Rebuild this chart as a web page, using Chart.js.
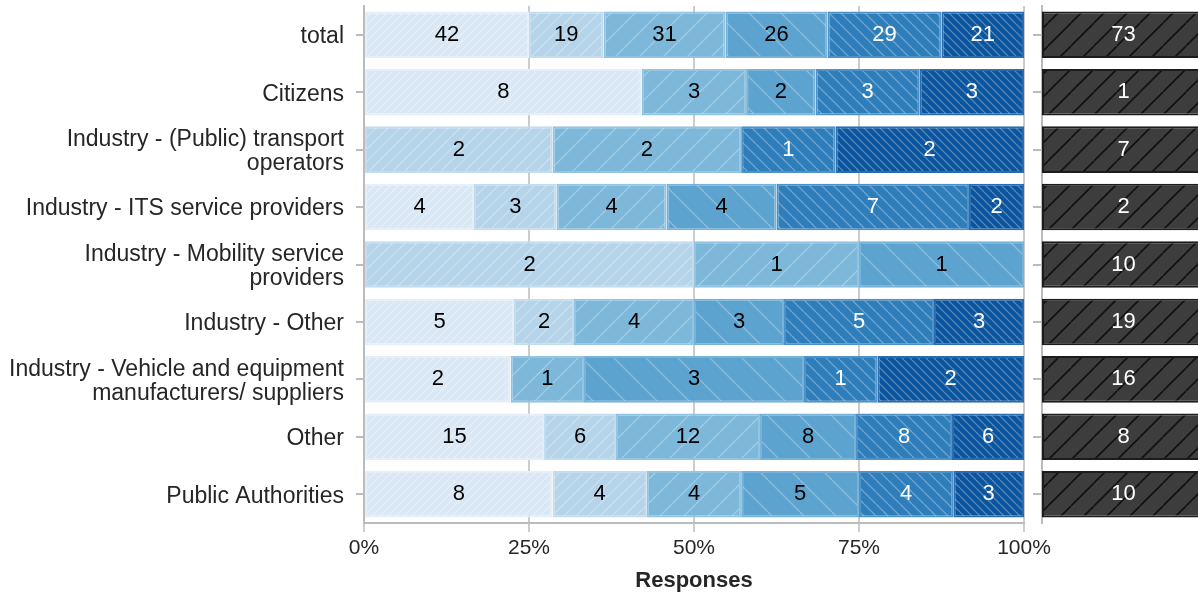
<!DOCTYPE html>
<html>
<head>
<meta charset="utf-8">
<script src="https://cdn.jsdelivr.net/npm/chart.js@4"></script>
<style>
  html, body { margin: 0; padding: 0; background: #fff; overflow: hidden; }
  body { width: 1198px; height: 599px; position: relative; }
  #main { position: absolute; left: 0; top: 0; }
  #side { position: absolute; left: 1025px; top: 0; }
</style>
</head>
<body>
<canvas id="main" width="1060" height="599"></canvas>
<canvas id="side" width="180" height="599"></canvas>
<script>
// rows of the chart
var categories = [
  "total",
  "Citizens",
  ["Industry - (Public) transport", "operators"],
  "Industry - ITS service providers",
  ["Industry - Mobility service", "providers"],
  "Industry - Other",
  ["Industry - Vehicle and equipment", "manufacturers/ suppliers"],
  "Other",
  "Public Authorities"
];

// answer counts per level (6 levels), one value per row
var counts1 = [42, 8, 0, 4, 0, 5, 2, 15, 8];
var counts2 = [19, 0, 2, 3, 2, 2, 0, 6, 4];
var counts3 = [31, 3, 2, 4, 1, 4, 1, 12, 4];
var counts4 = [26, 2, 0, 4, 1, 3, 3, 8, 5];
var counts5 = [29, 3, 1, 7, 0, 5, 1, 8, 4];
var counts6 = [21, 3, 2, 2, 0, 3, 2, 6, 3];

// number of respondents shown in the dark side panel
var respondents = [73, 1, 7, 2, 10, 19, 16, 8, 10];

var xTicks = [0, 25, 50, 75, 100];

var FONT = "'Liberation Sans', Arial, sans-serif";
var allCounts = [counts1, counts2, counts3, counts4, counts5, counts6];
var fills = ["#dae8f5", "#b5d3e9", "#7db8da", "#5ca3d0", "#2e7ebc", "#0b559f"];
var edges = ["#e4eff9", "#c3dcee", "#93c4e1", "#77b3d9", "#4f92c8", "#2a6cae"];
var gaps = [8, 12, 24, 32, 12, 8];
var dirs = [1, 1, 1, -1, -1, -1];
var textColors = ["#000", "#000", "#000", "#000", "#fff", "#fff"];

function hatch(fill, gap, dir, line, lw) {
  var c = document.createElement("canvas");
  c.width = gap; c.height = gap;
  var g = c.getContext("2d");
  g.fillStyle = fill;
  g.fillRect(0, 0, gap, gap);
  g.strokeStyle = line;
  g.lineWidth = lw;
  g.beginPath();
  for (var k = -1; k <= 1; k++) {
    if (dir > 0) { g.moveTo(k * gap, gap); g.lineTo(k * gap + gap, 0); }
    else { g.moveTo(k * gap, 0); g.lineTo(k * gap + gap, gap); }
  }
  g.stroke();
  return g.createPattern(c, "repeat");
}

// row totals -> percentages
var rowTotals = categories.map(function (_, i) {
  var s = 0;
  allCounts.forEach(function (arr) { s += arr[i]; });
  return s;
});

var datasets = allCounts.map(function (arr, k) {
  return {
    label: "level " + (k + 1),
    data: arr.map(function (v, i) { return v / rowTotals[i] * 100; }),
    counts: arr,
    textColor: textColors[k],
    backgroundColor: hatch(fills[k], gaps[k], dirs[k], "rgba(255,255,255,0.3)", 1.3),
    borderColor: edges[k],
    borderWidth: 2,
    borderSkipped: false,
    barPercentage: 0.81,
    categoryPercentage: 1
  };
});

// draws the count in the middle of every segment
var countLabels = {
  id: "countLabels",
  afterDatasetsDraw: function (chart) {
    var ctx = chart.ctx;
    ctx.save();
    ctx.font = "22px " + FONT;
    ctx.textAlign = "center";
    ctx.textBaseline = "middle";
    chart.data.datasets.forEach(function (ds, di) {
      var meta = chart.getDatasetMeta(di);
      meta.data.forEach(function (bar, i) {
        var n = ds.counts[i];
        if (!n) return;
        var cx = (bar.x + bar.base) / 2;
        ctx.fillStyle = ds.textColor;
        ctx.fillText(String(n), cx, bar.y);
      });
    });
    ctx.restore();
  }
};

new Chart("main", {
  type: "bar",
  data: { labels: categories, datasets: datasets },
  plugins: [countLabels],
  options: {
    indexAxis: "y",
    responsive: false,
    animation: false,
    layout: { padding: { top: 6, right: 36, left: 0, bottom: 0 } },
    plugins: { legend: { display: false }, tooltip: { enabled: false } },
    scales: {
      x: {
        stacked: true,
        min: 0,
        max: 100,
        afterBuildTicks: function (s) { s.ticks = xTicks.map(function (v) { return { value: v }; }); },
        afterFit: function (s) { s.height = 76; s.paddingLeft = 0; s.paddingRight = 0; },
        ticks: {
          color: "#262626",
          font: { family: FONT, size: 21 },
          padding: 4,
          callback: function (v) { return v + "%"; }
        },
        grid: { color: "#cccccc", lineWidth: 2, tickLength: 9 },
        border: { color: "#bbbbbb", width: 2 },
        title: {
          display: true,
          text: "Responses",
          color: "#262626",
          font: { family: FONT, size: 22, weight: "bold" },
          padding: { top: 4, bottom: 5 }
        }
      },
      y: {
        stacked: true,
        afterFit: function (s) { s.width = 364; s.paddingTop = 0; s.paddingBottom = 0; },
        ticks: {
          color: "#262626",
          font: { family: FONT, size: 23, lineHeight: 1.05 },
          padding: 12,
          labelOffset: 2
        },
        grid: { offset: false, drawOnChartArea: false, color: "#bbbbbb", lineWidth: 2, tickLength: 8 },
        border: { color: "#bbbbbb", width: 2 }
      }
    }
  }
});

var sideLabels = {
  id: "sideLabels",
  afterDatasetsDraw: function (chart) {
    var ctx = chart.ctx;
    var meta = chart.getDatasetMeta(0);
    ctx.save();
    ctx.font = "22px " + FONT;
    ctx.textAlign = "center";
    ctx.textBaseline = "middle";
    ctx.fillStyle = "#fff";
    meta.data.forEach(function (bar, i) {
      ctx.fillText(String(respondents[i]), (bar.x + bar.base) / 2, bar.y);
    });
    ctx.restore();
  }
};

new Chart("side", {
  type: "bar",
  data: {
    labels: categories,
    datasets: [{
      label: "respondents",
      data: respondents.map(function () { return 1; }),
      backgroundColor: hatch("#3d3d3d", 23, 1, "#111111", 1.6),
      borderColor: "#1c1c1c",
      borderWidth: 2,
      borderSkipped: false,
      barPercentage: 0.81,
      categoryPercentage: 1
    }]
  },
  plugins: [sideLabels],
  options: {
    indexAxis: "y",
    responsive: false,
    animation: false,
    layout: { padding: { top: 6, right: 0, left: 0, bottom: 76 } },
    plugins: { legend: { display: false }, tooltip: { enabled: false } },
    scales: {
      x: { display: false, min: 0, max: 1 },
      y: {
        afterFit: function (s) { s.width = 17; s.paddingTop = 0; s.paddingBottom = 0; },
        ticks: { display: false },
        grid: { offset: false, drawOnChartArea: false, color: "#bbbbbb", lineWidth: 2, tickLength: 9 },
        border: { color: "#bbbbbb", width: 2 }
      }
    }
  }
});
</script>
</body>
</html>
